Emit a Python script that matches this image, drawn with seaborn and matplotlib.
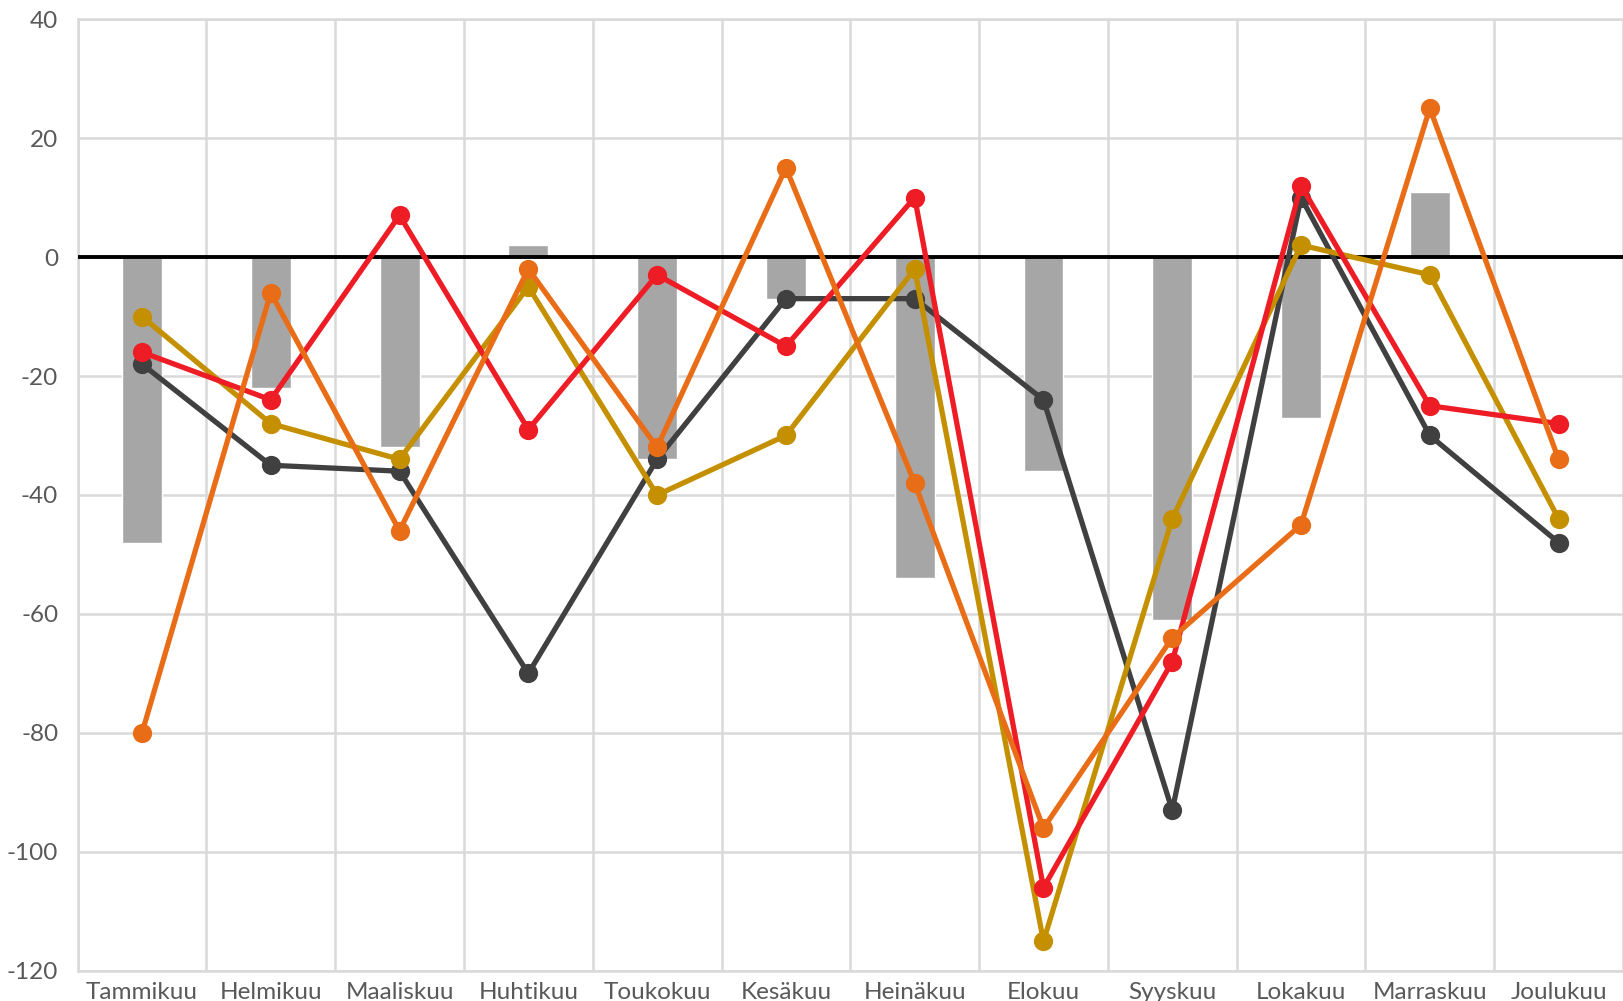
import numpy as np
import pandas as pd
import matplotlib.pyplot as plt
import seaborn as sns

months = ["Tammikuu", "Helmikuu", "Maaliskuu", "Huhtikuu", "Toukokuu", "Kesäkuu",
          "Heinäkuu", "Elokuu", "Syyskuu", "Lokakuu", "Marraskuu", "Joulukuu"]

bars = [-48, -22, -32, 2, -34, -7, -54, -36, -61, -27, 11, 0]
dark = [-18, -35, -36, -70, -34, -7, -7, -24, -93, 10, -30, -48]
gold = [-10, -28, -34, -5, -40, -30, -2, -115, -44, 2, -3, -44]
red = [-16, -24, 7, -29, -3, -15, 10, -106, -68, 12, -25, -28]
orange = [-80, -6, -46, -2, -32, 15, -38, -96, -64, -45, 25, -34]

series = [
    (dark, "#404040"),
    (gold, "#c49000"),
    (red, "#ee1c25"),
    (orange, "#e96d17"),
]

sns.set_theme(style="white")
plt.rcParams["font.family"] = ["Lato", "DejaVu Sans"]
plt.rcParams["axes.unicode_minus"] = False

fig = plt.figure(figsize=(16.23, 10.01), dpi=100)
ax = fig.add_axes([0.0478, 0.03, 0.9522, 0.951])

df = pd.DataFrame({"month": months, "value": bars})
sns.barplot(data=df, x="month", y="value", order=months, color="#a6a6a6",
            width=0.31, saturation=1, ax=ax, zorder=2)

for values, col in series:
    d = pd.DataFrame({"month": months, "value": values})
    sns.pointplot(data=d, x="month", y="value", order=months, color=col,
                  errorbar=None, markers="o", markersize=11, linewidth=3.8,
                  ax=ax, zorder=4)

ax.axhline(0, color="black", linewidth=2.8, zorder=3)

ax.set_xlim(-0.5, 11.5)
ax.set_ylim(-120, 40)
ax.set_yticks(np.arange(-120, 41, 20))
ax.set_xticks(np.arange(-0.5, 12, 1), minor=True)
ax.grid(axis="y", which="major", color="#d9d9d9", linewidth=1.8, zorder=0)
ax.grid(axis="x", which="minor", color="#d9d9d9", linewidth=1.8, zorder=0)
ax.set_axisbelow(True)

for s in ["top", "bottom", "left"]:
    ax.spines[s].set_color("#d9d9d9")
    ax.spines[s].set_linewidth(1.8)
ax.spines["right"].set_visible(False)

ax.tick_params(axis="both", which="both", length=0, labelsize=17.5, labelcolor="#595959")
ax.tick_params(axis="y", pad=14)
ax.tick_params(axis="x", pad=8)
ax.set_xlabel("")
ax.set_ylabel("")

fig.savefig("out.png", dpi=100)
